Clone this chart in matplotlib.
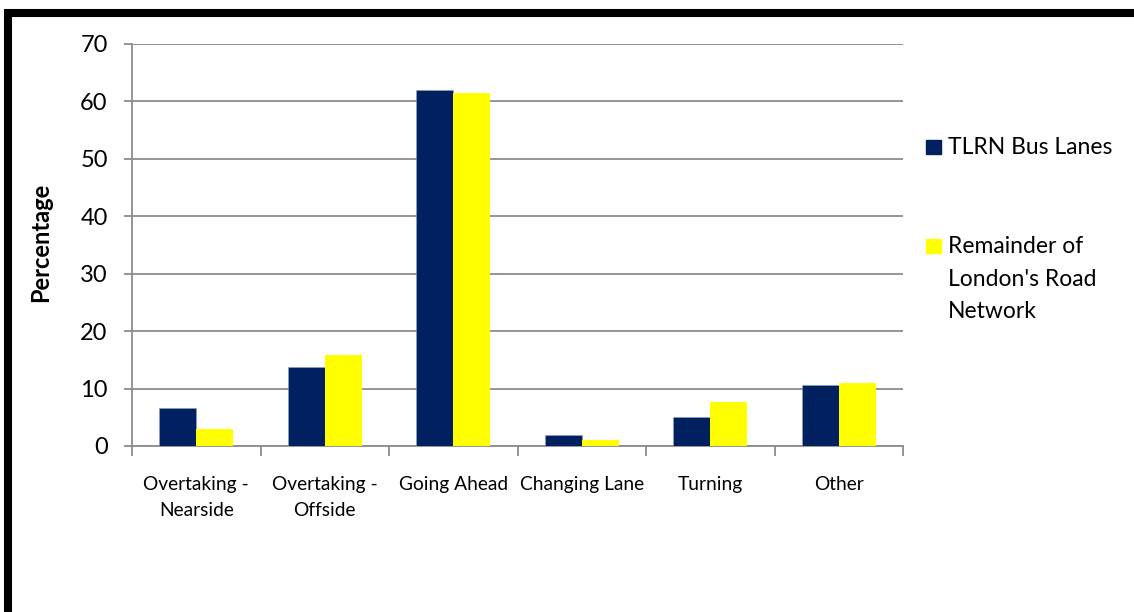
import matplotlib
matplotlib.use("Agg")
import matplotlib.pyplot as plt
from matplotlib.patches import Rectangle
import numpy as np

plt.rcParams['font.family'] = ['Lato', 'DejaVu Sans']

categories = ["Overtaking -\nNearside", "Overtaking -\nOffside", "Going Ahead",
              "Changing Lane", "Turning", "Other"]
series_names = ["TLRN Bus Lanes", "Remainder of\nLondon's Road\nNetwork"]
tlrn_bus_lanes = [6.7, 13.8, 62.0, 1.9, 5.1, 10.7]
remainder_london = [3.0, 15.9, 61.5, 1.05, 7.6, 11.0]
series_colors = ["#002060", "#FFFF00"]
y_ticks = [0, 10, 20, 30, 40, 50, 60, 70]

W, H = 1134, 612
fig = plt.figure(figsize=(W / 100, H / 100), dpi=100)
ax = fig.add_axes([132 / W, 1 - 446 / H, (903 - 132) / W, (446 - 44) / H])

x = np.arange(len(categories))
bw = 0.288
ax.bar(x - bw / 2, tlrn_bus_lanes, bw, color=series_colors[0], zorder=3,
       edgecolor="#8fa3c8", linewidth=0.4)
ax.bar(x + bw / 2, remainder_london, bw, color=series_colors[1], zorder=3,
       linewidth=0)

ax.set_xlim(-0.5, len(categories) - 0.5)
ax.set_ylim(0, 70)
ax.set_yticks(y_ticks)
ax.yaxis.grid(True, color="#8c8c8c", linewidth=1.3, zorder=0)
ax.set_axisbelow(True)

for side in ("top", "right"):
    ax.spines[side].set_visible(False)
for side in ("left", "bottom"):
    ax.spines[side].set_color("#8c8c8c")
    ax.spines[side].set_linewidth(1.3)

ax.tick_params(axis="y", length=6, width=1.3, color="#8c8c8c", pad=11.5,
               labelsize=17, labelcolor="black")
ax.set_xticks(x)
ax.set_xticklabels(categories, fontsize=13.8, linespacing=1.68)
ax.tick_params(axis="x", length=0, pad=21.5)
# category boundary ticks
ax.set_xticks(np.arange(-0.5, len(categories)), minor=True)
ax.tick_params(axis="x", which="minor", length=7, width=1.3, color="#8c8c8c")

fig.text(41 / W, 1 - 242 / H, "Percentage", rotation=90, ha="center",
         va="center", fontsize=17, fontweight="bold")

# legend
leg_items = [(147, series_names[0], series_colors[0]),
             (246, series_names[1], series_colors[1])]
for yc, label, col in leg_items:
    fig.patches.append(Rectangle((926 / W, 1 - (yc + 7) / H), 15 / W, 14 / H,
                                 transform=fig.transFigure, color=col))
    fig.text(948 / W, 1 - (yc - 10) / H, label, ha="left", va="top",
             fontsize=16.5, linespacing=1.68)

# outer frame
fig.patches.append(Rectangle((8 / W, -0.2), 1.2, 1 - 12.5 / H + 0.2,
                             transform=fig.transFigure, fill=False,
                             edgecolor="black", linewidth=5.8))

fig.savefig("out.png", dpi=100, facecolor="white")
